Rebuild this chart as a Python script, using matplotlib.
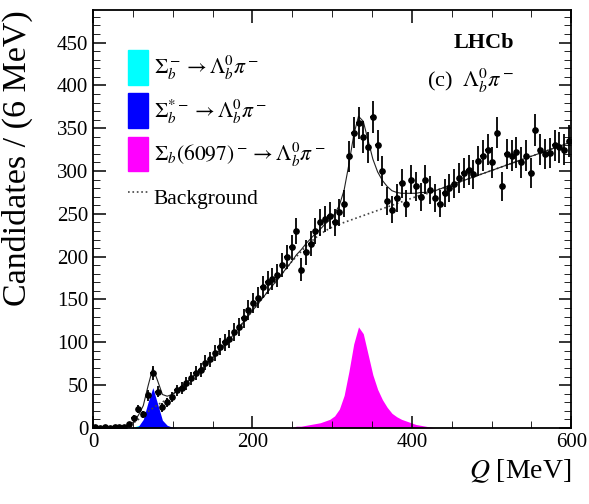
import numpy as np
import matplotlib
matplotlib.use('Agg')
import matplotlib.pyplot as plt
from matplotlib.patches import Patch
from matplotlib.lines import Line2D
from matplotlib.ticker import MultipleLocator

plt.rcParams['font.family'] = ['Liberation Serif', 'DejaVu Serif']
plt.rcParams['mathtext.fontset'] = 'stix'

# bin centres, 6 MeV bins
q_bins = np.arange(3, 600, 6)

counts = [1, 0, 1, 0, 1, 1, 1, 4, 12, 22,
          16, 38, 64, 42, 24, 30, 36, 44, 47, 52,
          58, 64, 68, 76, 80, 88, 95, 100, 104, 112,
          118, 128, 138, 146, 152, 165, 170, 174, 178, 190,
          200, 211, 230, 185, 205, 215, 230, 240, 244, 248,
          240, 252, 262, 317, 345, 356, 340, 328, 363, 330,
          300, 265, 255, 268, 286, 262, 290, 282, 270, 290,
          278, 268, 262, 274, 280, 285, 292, 298, 301, 296,
          312, 318, 325, 310, 345, 282, 320, 318, 322, 310,
          318, 298, 348, 325, 320, 321, 330, 328, 325, 335]

background = [0, 0, 0, 0, 0, 0.5, 1, 3, 6, 10,
              15, 19, 23, 27, 30, 34, 38, 43, 48, 53,
              58, 63, 68, 73, 79, 85, 91, 97, 103, 110,
              117, 124, 131, 138, 145, 152, 159, 166, 173, 180,
              187, 194, 200, 206, 212, 217, 222, 226, 230, 233,
              236, 238, 240, 242, 244, 246, 248, 250, 252, 254,
              256, 258, 260, 262, 264, 266, 268, 270, 272, 273,
              275, 277, 279, 281, 283, 285, 287, 289, 291, 293,
              295, 297, 299, 301, 303, 305, 307, 309, 311, 313,
              315, 317, 319, 321, 323, 325, 327, 329, 331, 333]

# signal components (start at bin index)
sigb_start = 8      # Q = 51
sigb = [1, 3, 1]
sigbstar_start = 9  # Q = 57
sigbstar = [2, 10, 30, 47, 28, 9, 3, 1]
sig6097_start = 42  # Q = 255
sig6097 = [2, 2, 3, 4, 5, 6, 8, 10, 14, 22,
           38, 66, 98, 118, 110, 86, 62, 45, 33, 24,
           17, 13, 10, 8, 6, 4, 3, 2, 1, 0]


def place(vals, start):
    arr = np.zeros(len(q_bins))
    arr[start:start + len(vals)] = vals
    return arr


c_sigb = place(sigb, sigb_start)
c_star = place(sigbstar, sigbstar_start)
c_6097 = place(sig6097, sig6097_start)
bkg = np.array(background, dtype=float)
total = bkg + c_sigb + c_star + c_6097
y = np.array(counts, dtype=float)
yerr = np.sqrt(np.maximum(y, 1))

fig = plt.figure(figsize=(5.89, 5.04), dpi=100)
ax = fig.add_axes([0.158, 0.151, 0.812, 0.829])

ax.fill_between(q_bins, 0, c_sigb, color='#00ffff', lw=0)
ax.fill_between(q_bins, 0, c_star, color='#0000ff', lw=0)
ax.fill_between(q_bins, 0, c_6097, color='#ff00ff', lw=0)
ax.plot(q_bins, bkg, ls=':', color='#444444', lw=1.2)
ax.plot(q_bins, total, color='#222222', lw=0.8)
ax.errorbar(q_bins, y, yerr=yerr, xerr=3, fmt='o', color='black',
            ms=3.8, elinewidth=1.3, capsize=0)

ax.set_xlim(0, 600)
ax.set_ylim(0, 488)
ax.xaxis.set_major_locator(MultipleLocator(200))
ax.xaxis.set_minor_locator(MultipleLocator(50))
ax.yaxis.set_major_locator(MultipleLocator(50))
ax.yaxis.set_minor_locator(MultipleLocator(10))
ax.tick_params(which='both', direction='in', top=True, right=True, labelsize=15)
ax.tick_params(which='major', length=9, width=1.1)
ax.tick_params(which='minor', length=5)
ax.set_yticks(np.arange(0, 451, 50))
for s in ax.spines.values():
    s.set_linewidth(1.3)

ax.set_xlabel('$Q$ [MeV]', fontsize=20, ha='right', x=1.0)
ax.set_ylabel('Candidates / (6 MeV)', fontsize=24.5, ha='right', y=1.0)
ax.yaxis.set_label_coords(-0.125, 1.0)

ax.text(0.88, 0.945, 'LHCb', transform=ax.transAxes, ha='right', va='top',
        fontsize=16, fontweight='bold')
ax.text(0.88, 0.865, r'(c)  $\Lambda_b^0\pi^-$', transform=ax.transAxes,
        ha='right', va='top', fontsize=16)

handles = [Patch(color='#00ffff'), Patch(color='#0000ff'), Patch(color='#ff00ff'),
           Line2D([], [], ls=':', color='#444444', lw=1.2)]
labels = [r'$\Sigma_b^-\rightarrow\Lambda_b^0\pi^-$',
          r'$\Sigma_b^{*-}\rightarrow\Lambda_b^0\pi^-$',
          r'$\Sigma_b(6097)^-\rightarrow\Lambda_b^0\pi^-$',
          'Background']
ax.legend(handles, labels, loc='upper left', bbox_to_anchor=(0.055, 0.925),
          frameon=False, fontsize=15.5, handlelength=0.95, handleheight=2.1,
          handletextpad=0.25, labelspacing=0.4, borderaxespad=0)

fig.savefig('out.png', dpi=100)
